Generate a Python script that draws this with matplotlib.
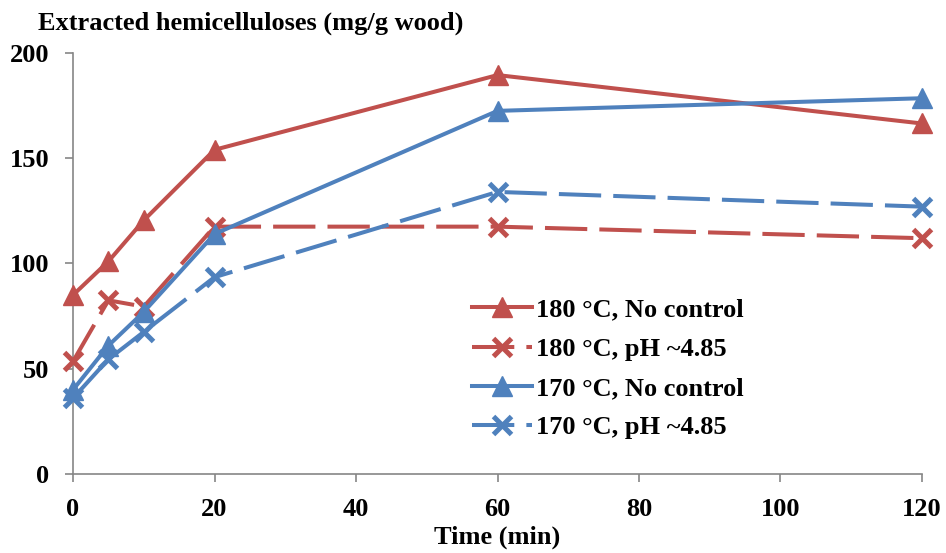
import matplotlib
matplotlib.use("Agg")
import matplotlib.pyplot as plt

# Sampling times (min)
time_min = [0, 5, 10, 20, 60, 120]

# Extracted hemicelluloses (mg/g wood)
t180_no_control = [85, 101, 120.5, 154, 189.5, 166.5]
t180_ph = [53.5, 82.5, 79.5, 117.5, 117.5, 112]
t170_no_control = [40, 61, 77, 114, 172.5, 178.5]
t170_ph = [36, 54.5, 67.5, 93.5, 134, 127]

series_labels = ["180 \u00b0C, No control", "180 \u00b0C, pH ~4.85",
                 "170 \u00b0C, No control", "170 \u00b0C, pH ~4.85"]

x_ticks = [0, 20, 40, 60, 80, 100, 120]
y_ticks = [0, 50, 100, 150, 200]

RED = "#C0504D"
BLUE = "#4F81BD"

plt.rcParams["font.family"] = ["Liberation Serif", "DejaVu Serif"]
plt.rcParams["font.weight"] = "bold"

fig = plt.figure(figsize=(9.46, 5.53), dpi=100)
ax = fig.add_axes([0.0772, 0.1429, 0.8974, 0.7613])

lw = 2.9
dash = (0, (10.5, 3))
common = dict(lw=lw, clip_on=False, zorder=3)
ax.plot(time_min, t180_no_control, color=RED, marker="^", ms=14, mew=1,
        label=series_labels[0], **common)
ax.plot(time_min, t180_ph, color=RED, ls=dash, marker="x", ms=13,
        mew=3.6, label=series_labels[1], **common)
ax.plot(time_min, t170_no_control, color=BLUE, marker="^", ms=14, mew=1,
        label=series_labels[2], **common)
ax.plot(time_min, t170_ph, color=BLUE, ls=dash, marker="x", ms=13,
        mew=3.6, label=series_labels[3], **common)

ax.set_xlim(0, 120)
ax.set_ylim(0, 200)
ax.set_xticks(x_ticks)
ax.set_yticks(y_ticks)
for s in ("top", "right"):
    ax.spines[s].set_visible(False)
for s in ("left", "bottom"):
    ax.spines[s].set_color("#868686")
    ax.spines[s].set_linewidth(1.2)
ax.tick_params(direction="out", length=6, width=1.2, color="#868686",
               labelsize=19)
ax.tick_params(axis="x", pad=11.5)
ax.tick_params(axis="y", pad=11)
for lab in ax.get_xticklabels() + ax.get_yticklabels():
    lab.set_fontweight("bold")

ax.set_xlabel("Time (min)", fontsize=19, fontweight="bold", labelpad=3)
fig.text(0.040, 0.958, "Extracted hemicelluloses (mg/g wood)", fontsize=19,
         fontweight="bold", ha="left", va="center")

leg = ax.legend(loc="upper left", bbox_to_anchor=(0.499, 0.461),
                bbox_transform=fig.transFigure, frameon=False,
                prop={"weight": "bold", "size": 19}, borderpad=0,
                borderaxespad=0, handlelength=2.27, handletextpad=0.15,
                labelspacing=0.6)

fig.savefig("out.png", dpi=100)
